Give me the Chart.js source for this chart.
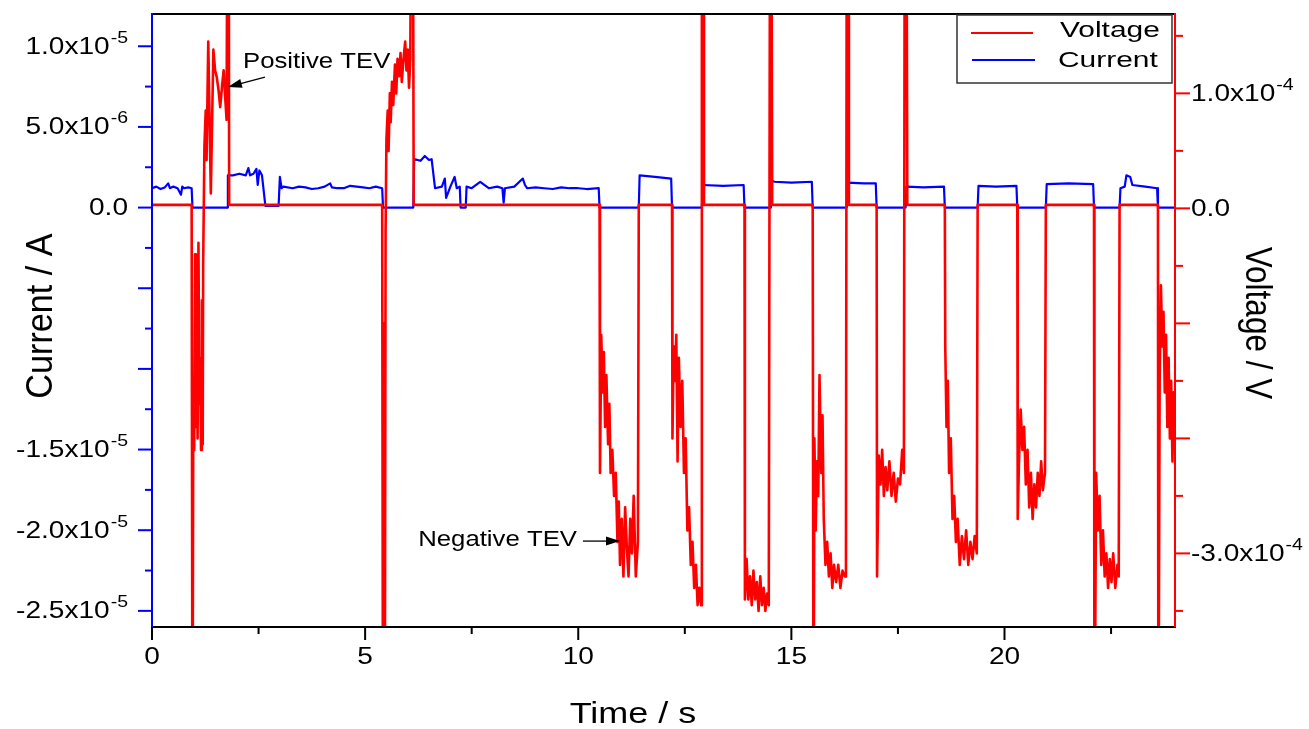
<!DOCTYPE html>
<html>
<head>
<meta charset="utf-8">
<script src="https://cdn.jsdelivr.net/npm/chart.js@4.4.0/dist/chart.umd.min.js"></script>
<style>
  html, body { margin: 0; padding: 0; background: #fff; }
  #wrap { width: 1309px; height: 729px; }
</style>
</head>
<body>
<div id="wrap"><canvas id="chart" width="1309" height="729"></canvas></div>
<script>
// ————— Data —————
// Current in units of 1e-6 A (left axis)
const currentTime = [
  0, 0.1, 0.2, 0.3, 0.38, 0.42, 0.5, 0.6, 0.68, 0.71, 0.75, 0.85, 0.93, 0.95,
  1.76, 1.78, 1.9, 2.05, 2.2, 2.26, 2.3, 2.38, 2.45, 2.48, 2.52, 2.58, 2.66,
  2.97, 3.0, 3.04, 3.08, 3.3, 3.45, 3.6, 3.75, 3.9, 4.05, 4.18, 4.22, 4.35, 4.5, 4.65, 4.8, 4.95, 5.1, 5.25, 5.4, 5.42,
  6.13, 6.15, 6.3, 6.4, 6.5, 6.56, 6.64, 6.8, 6.87, 6.9, 7.0, 7.1, 7.15, 7.22, 7.24,
  7.36, 7.38, 7.5, 7.7, 7.9, 8.1, 8.22, 8.25, 8.28, 8.5, 8.7, 8.75, 8.8, 9.0, 9.2, 9.4, 9.6, 9.8, 10.0, 10.2, 10.48, 10.5,
  11.42, 11.44, 11.8, 12.18, 12.2,
  12.9, 12.92, 13.4, 13.88, 13.9,
  14.5, 14.52, 14.6, 15.0, 15.48, 15.5,
  16.3, 16.32, 16.7, 16.98, 17.0,
  17.68, 17.7, 18.1, 18.58, 18.6,
  19.37, 19.39, 19.8, 20.28, 20.3,
  20.97, 20.99, 21.5, 22.08, 22.1,
  22.7, 22.72, 22.82, 22.86, 22.95, 23.0, 23.3, 23.58, 23.6, 24
];
const currentValue = [
  1.2, 1.3, 1.15, 1.25, 1.5, 1.2, 1.3, 1.2, 0.8, 1.3, 1.2, 1.25, 1.2, 0,
  0, 2.0, 2.0, 2.1, 2.0, 2.45, 2.0, 2.1, 2.4, 1.4, 2.3, 2.0, 0.1,
  0.1, 1.9, 1.2, 1.3, 1.2, 1.3, 1.25, 1.15, 1.2, 1.3, 1.5, 1.25, 1.2, 1.2, 1.35, 1.3, 1.25, 1.2, 1.3, 1.2, 0,
  0, 3.0, 2.9, 3.2, 2.95, 3.0, 1.2, 1.3, 1.8, 0.6, 1.3, 1.9, 1.2, 1.3, 0,
  0, 1.3, 1.2, 1.6, 1.2, 1.3, 1.2, 0.3, 1.2, 1.3, 1.8, 1.4, 1.2, 1.25, 1.2, 1.15, 1.25, 1.2, 1.2, 1.15, 1.2, 0,
  0, 2.0, 1.9, 1.8, 0,
  0, 1.4, 1.35, 1.4, 0,
  0, 1.7, 1.6, 1.55, 1.6, 0,
  0, 1.55, 1.5, 1.5, 0,
  0, 1.3, 1.25, 1.3, 0,
  0, 1.35, 1.3, 1.35, 0,
  0, 1.45, 1.5, 1.45, 0,
  0, 1.2, 1.3, 2.0, 1.9, 1.4, 1.3, 1.2, 0, 0
];

// Voltage in units of 1e-4 V (right axis)
const voltageTime = [
  0, 0.93, 0.95, 0.97, 0.99, 1.01, 1.03, 1.05, 1.07, 1.09, 1.11, 1.13, 1.15, 1.17, 1.19, 1.2,
  1.23, 1.26, 1.28, 1.32, 1.38, 1.44, 1.48, 1.52, 1.56, 1.6, 1.64, 1.68, 1.72, 1.75, 1.77, 1.8, 1.81,
  5.4, 5.42, 5.44, 5.46, 5.48, 5.5, 5.53, 5.55, 5.58, 5.6, 5.63, 5.66, 5.7, 5.73, 5.76, 5.8,
  5.83, 5.86, 5.9, 5.94, 5.97, 6.0, 6.03, 6.06, 6.08, 6.12, 6.14,
  10.5, 10.51, 10.54, 10.57, 10.6, 10.63, 10.66, 10.7, 10.73, 10.76, 10.8, 10.84, 10.88, 10.92,
  10.95, 10.98, 11.02, 11.06, 11.1, 11.14, 11.18, 11.22, 11.26, 11.3, 11.35, 11.4, 11.42,
  12.2, 12.21, 12.24, 12.27, 12.3, 12.33, 12.36, 12.4, 12.44, 12.48, 12.52, 12.56, 12.6, 12.64,
  12.68, 12.72, 12.76, 12.8, 12.84, 12.88, 12.9, 12.93, 12.95,
  13.9, 13.91, 13.95, 13.99, 14.03, 14.07, 14.11, 14.15, 14.19, 14.23, 14.27, 14.31, 14.35,
  14.39, 14.43, 14.47, 14.5, 14.53, 14.55,
  15.5, 15.52, 15.54, 15.57, 15.6, 15.63, 15.66, 15.7, 15.73, 15.76, 15.8, 15.84, 15.88, 15.92,
  15.96, 16.0, 16.05, 16.1, 16.15, 16.2, 16.25, 16.28, 16.3, 16.33, 16.35,
  17.0, 17.01, 17.05, 17.09, 17.13, 17.17, 17.21, 17.25, 17.3, 17.35, 17.4, 17.45, 17.5, 17.55,
  17.6, 17.64, 17.66, 17.7, 17.72,
  18.6, 18.61, 18.64, 18.67, 18.7, 18.74, 18.78, 18.82, 18.86, 18.9, 18.95, 19.0, 19.05, 19.1,
  19.15, 19.2, 19.25, 19.3, 19.35, 19.37,
  20.3, 20.31, 20.34, 20.38, 20.42, 20.46, 20.5, 20.54, 20.58, 20.62, 20.66, 20.7, 20.74, 20.78,
  20.82, 20.86, 20.9, 20.95, 20.97,
  22.1, 22.11, 22.15, 22.19, 22.23, 22.27, 22.31, 22.35, 22.39, 22.43, 22.47, 22.51, 22.55, 22.6,
  22.65, 22.68, 22.7,
  23.6, 23.61, 23.64, 23.67, 23.7, 23.73, 23.76, 23.79, 23.82, 23.85, 23.88, 23.91, 23.94, 23.97, 24.0
];
const voltageValue = [
  0.03, 0.03, -5, -1.5, -2.1, -0.4, -1.9, -1.1, -2.0, -0.3, -1.7, -1.3, -2.1, -0.8, -2.05, -0.5,
  0.54, 0.85, 0.42, 1.45, 0.13, 1.38, 1.2, 1.14, 1.03, 0.88, 1.05, 1.2, 0.95, 0.77, 3, 3, 0.03,
  0.03, -5, -1.0, -5, -0.2, 0.6, 0.85, 0.5, 1.0, 0.75, 1.1, 0.9, 1.25, 1.0, 1.3, 1.15,
  1.35, 1.1, 1.3, 1.45, 1.2, 1.38, 1.05, 1.3, 3, 3, 0.03,
  0.03, -2.3, -1.1, -1.6, -1.25, -1.9, -1.45, -2.05, -1.7, -2.3, -2.1, -2.5, -2.3, -2.9,
  -2.55, -3.1, -2.7, -3.2, -2.6, -2.95, -3.2, -2.7, -3.0, -2.5, -3.2, -2.9, 0.03,
  0.03, -2.0, -1.2, -1.5, -1.1, -2.2, -1.3, -1.9, -1.5, -2.3, -2.0, -2.8, -2.6, -3.1,
  -2.9, -3.3, -3.1, -3.45, -3.3, -3.45, 3, 3, 0.03,
  0.03, -3.4, -3.05, -3.4, -3.2, -3.45, -3.15, -3.4, -3.25, -3.5, -3.2, -3.45, -3.3,
  -3.5, -3.35, -3.45, 3, 3, 0.03,
  0.03, -5, -2.0, -2.8, -2.2, -2.5, -1.45, -2.3, -1.8, -2.7, -3.1, -2.9, -3.2, -3.0,
  -3.3, -3.1, -3.25, -3.1, -3.3, -3.15, -3.2, -3.2, 3, 3, 0.03,
  0.03, -3.2, -2.15, -2.4, -2.1, -2.5, -2.25, -2.45, -2.2, -2.5, -2.3, -2.55, -2.35, -2.4,
  -2.1, -2.3, 3, 3, 0.03,
  0.03, -1.2, -1.9, -1.5, -2.3, -2.0, -2.7, -2.5, -2.9, -2.7, -3.1, -2.85, -3.05, -2.8,
  -3.1, -2.9, -3.05, -2.85, -3.0, 0.03,
  0.03, -2.7, -2.2, -1.75, -2.1, -1.9, -2.4, -2.1, -2.6, -2.3, -2.7, -2.4, -2.6, -2.3,
  -2.5, -2.2, -2.45, -2.3, 0.03,
  0.03, -5, -2.3, -2.8, -2.5, -3.1, -2.8, -3.2, -3.0, -3.3, -3.05, -3.25, -3.0, -3.3,
  -3.1, -3.2, 0.03,
  0.03, -5, -1.5, -0.67, -1.2, -0.9, -1.6, -1.1, -1.9, -1.3, -2.0, -1.5, -2.2, -1.6, -1.8
];

// Axis ticks
const xMajor = [0, 5, 10, 15, 20];
const xMinor = [2.5, 7.5, 12.5, 17.5, 22.5];
const xTickLabels = ['0', '5', '10', '15', '20'];

const leftMajor = [10, 5, 0, -5, -10, -15, -20, -25];
const leftMinor = [7.5, 2.5, -2.5, -7.5, -12.5, -17.5, -22.5];
const leftLabelValues = [10, 5, 0, -15, -20, -25];
const leftLabelMant = ['1.0', '5.0', '0.0', '-1.5', '-2.0', '-2.5'];
const leftLabelExp = ['-5', '-6', '', '-5', '-5', '-5'];

const rightMajor = [1, 0, -1, -2, -3];
const rightMinor = [1.5, 0.5, -0.5, -1.5, -2.5, -3.5];
const rightLabelValues = [1, 0, -3];
const rightLabelMant = ['1.0', '0.0', '-3.0'];
const rightLabelExp = ['-4', '', '-4'];

if (currentTime.length !== currentValue.length) console.warn('current length mismatch');
if (voltageTime.length !== voltageValue.length) console.warn('voltage length mismatch');

const currentPts = currentTime.map((t, i) => ({ x: t, y: currentValue[i] }));
const voltagePts = voltageTime.map((t, i) => ({ x: t, y: voltageValue[i] }));

// ————— Helpers —————
const FONT = '"Liberation Sans", Arial, sans-serif';

function drawText(ctx, s, x, y, size, align, sx) {
  ctx.save();
  ctx.font = `${size}px ${FONT}`;
  ctx.textBaseline = 'middle';
  ctx.textAlign = 'left';
  const w = ctx.measureText(s).width * sx;
  const x0 = align === 'right' ? x - w : align === 'center' ? x - w / 2 : x;
  ctx.translate(x0, y);
  ctx.scale(sx, 1);
  ctx.fillStyle = '#000';
  ctx.fillText(s, 0, 0);
  ctx.restore();
  return w;
}

function textWidth(ctx, s, size, sx) {
  ctx.save();
  ctx.font = `${size}px ${FONT}`;
  const w = ctx.measureText(s).width * sx;
  ctx.restore();
  return w;
}

function drawRotated(ctx, s, cx, cy, angle, size, along, across) {
  ctx.save();
  ctx.translate(cx, cy);
  ctx.rotate(angle);
  ctx.scale(along, across);
  ctx.font = `${size}px ${FONT}`;
  ctx.textAlign = 'center';
  ctx.textBaseline = 'middle';
  ctx.fillStyle = '#000';
  ctx.fillText(s, 0, 0);
  ctx.restore();
}

// label like 1.0x10^-5 ; exponent raised and smaller
function sciLabel(ctx, mant, exp, x, y, align) {
  const main = exp ? mant + 'x10' : mant;
  const w1 = textWidth(ctx, main, 23, 1.22);
  const w2 = exp ? textWidth(ctx, exp, 16, 1.22) + 1 : 0;
  const x0 = align === 'right' ? x - w1 - w2 : x;
  drawText(ctx, main, x0, y, 23, 'left', 1.22);
  if (exp) drawText(ctx, exp, x0 + w1 + 1, y - 9, 16, 'left', 1.22);
}

function tick(ctx, x1, y1, x2, y2) {
  ctx.beginPath();
  ctx.moveTo(x1, y1);
  ctx.lineTo(x2, y2);
  ctx.stroke();
}

function arrow(ctx, x0, y0, x1, y1) {
  const ang = Math.atan2(y1 - y0, x1 - x0);
  const L = 14, H = 4.5;
  ctx.save();
  ctx.strokeStyle = '#000';
  ctx.fillStyle = '#000';
  ctx.lineWidth = 1.3;
  ctx.beginPath();
  ctx.moveTo(x0, y0);
  ctx.lineTo(x1 - Math.cos(ang) * L * 0.8, y1 - Math.sin(ang) * L * 0.8);
  ctx.stroke();
  ctx.beginPath();
  ctx.moveTo(x1, y1);
  ctx.lineTo(x1 - Math.cos(ang) * L + Math.sin(ang) * H, y1 - Math.sin(ang) * L - Math.cos(ang) * H);
  ctx.lineTo(x1 - Math.cos(ang) * L - Math.sin(ang) * H, y1 - Math.sin(ang) * L + Math.cos(ang) * H);
  ctx.closePath();
  ctx.fill();
  ctx.restore();
}

// annotation anchors in data units (time, voltage x1e-4)
const notes = [
  { text: 'Positive TEV', tx: 2.135, ty: 1.272, align: 'left',  from: [2.65, 1.141], to: [1.78, 1.055] },
  { text: 'Negative TEV', tx: 9.97,  ty: -2.884, align: 'right', from: [10.11, -2.893], to: [10.98, -2.893] }
];

// ————— Decorations plugin —————
const decor = {
  id: 'decor',
  afterDraw(chart) {
    const { ctx, chartArea: a, scales } = chart;
    const sx = scales.x, yI = scales.yI, yV = scales.yV;

    ctx.save();
    ctx.lineWidth = 2;
    ctx.lineCap = 'butt';

    // frame
    ctx.strokeStyle = '#000';
    tick(ctx, a.left, a.top, a.right, a.top);
    tick(ctx, a.left - 1, a.bottom, a.right + 1, a.bottom);
    ctx.strokeStyle = '#0000ff';
    tick(ctx, a.left, a.top - 1, a.left, a.bottom);
    ctx.strokeStyle = '#ff0000';
    tick(ctx, a.right, a.top - 1, a.right, a.bottom);

    // x ticks
    ctx.strokeStyle = '#000';
    xMajor.forEach(v => { const p = sx.getPixelForValue(v); tick(ctx, p, a.bottom, p, a.bottom + 13); });
    xMinor.forEach(v => { const p = sx.getPixelForValue(v); tick(ctx, p, a.bottom, p, a.bottom + 7); });
    xMajor.forEach((v, i) => drawText(ctx, xTickLabels[i], sx.getPixelForValue(v), a.bottom + 31, 23, 'center', 1.22));

    // left ticks
    ctx.strokeStyle = '#0000ff';
    leftMajor.forEach(v => { const p = yI.getPixelForValue(v); tick(ctx, a.left - 14, p, a.left, p); });
    leftMinor.forEach(v => { const p = yI.getPixelForValue(v); tick(ctx, a.left - 7, p, a.left, p); });
    leftLabelValues.forEach((v, i) => sciLabel(ctx, leftLabelMant[i], leftLabelExp[i], a.left - 24, yI.getPixelForValue(v) + 1, 'right'));

    // right ticks
    ctx.strokeStyle = '#ff0000';
    rightMajor.forEach(v => { const p = yV.getPixelForValue(v); tick(ctx, a.right, p, a.right + 15, p); });
    rightMinor.forEach(v => { const p = yV.getPixelForValue(v); tick(ctx, a.right, p, a.right + 8, p); });
    rightLabelValues.forEach((v, i) => sciLabel(ctx, rightLabelMant[i], rightLabelExp[i], a.right + 16, yV.getPixelForValue(v) + 1, 'left'));

    // axis titles
    drawRotated(ctx, 'Current / A', 42, 316, -Math.PI / 2, 30, 1.14, 1.2);
    drawRotated(ctx, 'Voltage / V', 1256, 323, Math.PI / 2, 30, 1.05, 1.2);
    drawText(ctx, 'Time / s', 633, 715, 30, 'center', 1.2);

    // legend
    ctx.fillStyle = '#fff';
    ctx.fillRect(957, 15, 215, 68);
    ctx.strokeStyle = '#333';
    ctx.lineWidth = 1.5;
    ctx.strokeRect(957, 15, 215, 68);
    ctx.lineWidth = 2;
    ctx.strokeStyle = '#ff0000';
    tick(ctx, 971, 33, 1033, 33);
    ctx.strokeStyle = '#0000ff';
    tick(ctx, 972, 60, 1035, 60);
    drawText(ctx, 'Voltage', 1060, 31, 22, 'left', 1.36);
    drawText(ctx, 'Current', 1058, 61, 22, 'left', 1.36);

    // annotations
    notes.forEach(n => {
      drawText(ctx, n.text, sx.getPixelForValue(n.tx), yV.getPixelForValue(n.ty), 22, n.align, 1.17);
      arrow(ctx, sx.getPixelForValue(n.from[0]), yV.getPixelForValue(n.from[1]),
                 sx.getPixelForValue(n.to[0]), yV.getPixelForValue(n.to[1]));
    });

    ctx.restore();
  }
};

// ————— Chart —————
new Chart(document.getElementById('chart'), {
  type: 'line',
  data: {
    datasets: [
      { label: 'Voltage', data: voltagePts, yAxisID: 'yV', borderColor: '#ff0000', borderWidth: 2.6,
        pointRadius: 0, tension: 0, borderJoinStyle: 'round', clip: 0, order: 0 },
      { label: 'Current', data: currentPts, yAxisID: 'yI', borderColor: '#0000ff', borderWidth: 2.2,
        pointRadius: 0, tension: 0, borderJoinStyle: 'round', clip: 0, order: 1 }
    ]
  },
  options: {
    responsive: false,
    animation: false,
    layout: { padding: { left: 152, right: 134, top: 14, bottom: 102 } },
    plugins: { legend: { display: false }, tooltip: { enabled: false } },
    scales: {
      x:  { type: 'linear', min: 0, max: 24, display: false },
      yI: { type: 'linear', position: 'left', min: -26, max: 12, display: false },
      yV: { type: 'linear', position: 'right', min: -3.64, max: 1.69, display: false }
    }
  },
  plugins: [decor]
});
</script>
</body>
</html>
